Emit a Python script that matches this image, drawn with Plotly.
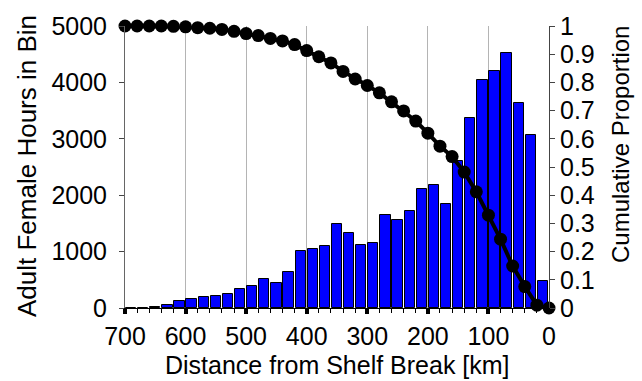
import plotly.graph_objects as go

# 20 km distance bins (bin centres, km from the shelf break)
bin_centers = [690, 670, 650, 630, 610, 590, 570, 550, 530, 510, 490, 470,
               450, 430, 410, 390, 370, 350, 330, 310, 290, 270, 250, 230,
               210, 190, 170, 150, 130, 110, 90, 70, 50, 30, 10]
hours = [0, 4, 10, 52, 128, 157, 197, 209, 255, 331, 394, 516,
         441, 632, 1015, 1050, 1102, 1485, 1328, 1119, 1154, 1647, 1560, 1723,
         2111, 2181, 1845, 2610, 3376, 4037, 4211, 4530, 3643, 3063, 487]

# cumulative proportion at bin edges
edges = [700, 680, 660, 640, 620, 600, 580, 560, 540, 520, 500, 480,
         460, 440, 420, 400, 380, 360, 340, 320, 300, 280, 260, 240,
         220, 200, 180, 160, 140, 120, 100, 80, 60, 40, 20, 0]
cum_prop = [1.0, 1.0, 1.0, 1.0, 0.999, 0.997, 0.994, 0.992, 0.988, 0.981, 0.973, 0.966,
            0.956, 0.947, 0.934, 0.913, 0.891, 0.869, 0.839, 0.812, 0.789, 0.763, 0.731, 0.699,
            0.663, 0.620, 0.574, 0.537, 0.482, 0.412, 0.329, 0.244, 0.149, 0.076, 0.010, 0.0]

x_ticks = [700, 600, 500, 400, 300, 200, 100, 0]
y_ticks = [0, 1000, 2000, 3000, 4000, 5000]
p_ticks = [0, 0.1, 0.2, 0.3, 0.4, 0.5, 0.6, 0.7, 0.8, 0.9, 1]
p_labels = ["0", "0.1", "0.2", "0.3", "0.4", "0.5", "0.6", "0.7", "0.8", "0.9", "1"]

FONT = "Liberation Sans, Arial, sans-serif"
TICK_SIZE = 25

fig = go.Figure()
fig.add_trace(go.Bar(
    x=bin_centers, y=hours, width=17,
    marker=dict(color="#0000FF", line=dict(color="black", width=1)),
    showlegend=False,
))
fig.add_trace(go.Scatter(
    x=edges, y=cum_prop, yaxis="y2", mode="lines+markers",
    line=dict(color="black", width=4),
    marker=dict(color="black", size=13),
    cliponaxis=False, showlegend=False,
))

fig.update_layout(
    width=642, height=381,
    margin=dict(l=125, r=93, t=20, b=73),
    paper_bgcolor="white", plot_bgcolor="white",
    font=dict(family=FONT, size=TICK_SIZE, color="black"),
    bargap=0,
    xaxis=dict(
        range=[700, 0], tickmode="array", tickvals=x_ticks,
        ticks="outside", ticklen=5, tickwidth=4, tickcolor="black",
        minor=dict(tickmode="linear", tick0=0, dtick=20, ticks="outside",
                   ticklen=4, tickwidth=1, tickcolor="black", showgrid=False),
        showgrid=True, gridcolor="#b4b4b4", gridwidth=1,
        showline=True, linecolor="black", linewidth=1,
        zeroline=False, ticklabelstandoff=1,
    ),
    yaxis=dict(
        range=[0, 5000], tickvals=y_ticks,
        ticks="outside", ticklen=5, tickwidth=1, tickcolor="#444",
        showline=True, linecolor="#666", linewidth=1,
        showgrid=False, zeroline=False, ticklabelstandoff=7,
    ),
    yaxis2=dict(
        overlaying="y", side="right", range=[0, 1],
        tickvals=p_ticks, ticktext=p_labels,
        ticks="outside", ticklen=5, tickwidth=1, tickcolor="#444",
        showline=True, linecolor="#444", linewidth=1,
        showgrid=False, zeroline=False, ticklabelstandoff=0,
    ),
    annotations=[
        dict(text="Distance from Shelf Break [km]", xref="paper", yref="paper",
             x=0.5, y=0, yshift=-57, xanchor="center", yanchor="middle",
             showarrow=False, font=dict(size=25)),
        dict(text="Adult Female Hours in Bin", xref="paper", yref="paper",
             x=0, y=0.5, xshift=-98, yshift=1, xanchor="center", yanchor="middle",
             textangle=-90, showarrow=False, font=dict(size=26)),
        dict(text="Cumulative Proportion", xref="paper", yref="paper",
             x=1, y=0.5, xshift=71, yshift=22, xanchor="center", yanchor="middle",
             textangle=-90, showarrow=False, font=dict(size=24)),
    ],
)

fig.write_html("out.html")
